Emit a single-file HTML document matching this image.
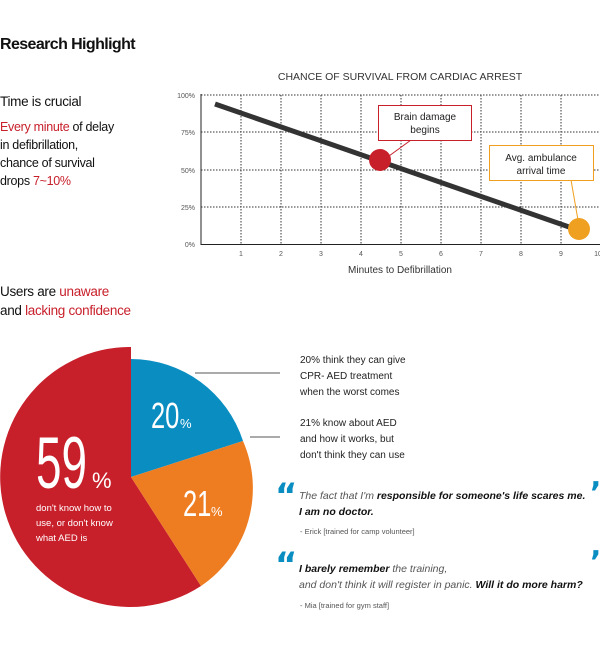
<!DOCTYPE html>
<html><head><meta charset="utf-8"><style>
body{margin:0;width:600px;height:649px;background:#fff;font-family:"Liberation Sans",sans-serif;position:relative;overflow:hidden}
.a{position:absolute;white-space:nowrap}
</style></head><body>
<div class="a" style="left:0;top:36px;font-size:16px;font-weight:bold;color:#111;letter-spacing:-0.6px">Research Highlight</div>
<div class="a" style="left:0;top:94px;font-size:13.5px;color:#111;letter-spacing:-0.3px">Time is crucial</div>
<div class="a" style="left:0;top:118px;font-size:12.5px;line-height:18px;color:#111;letter-spacing:-0.3px">
<span style="color:#c8202b">Every minute</span> of delay<br>in defibrillation,<br>chance of survival<br>drops <span style="color:#c8202b">7~10%</span></div>
<div class="a" style="left:0;top:282px;font-size:13.5px;line-height:19px;color:#111;letter-spacing:-0.3px">Users are <span style="color:#c8202b">unaware</span><br>and <span style="color:#c8202b">lacking confidence</span></div>

<svg class="a" style="left:0;top:0" width="600" height="649">
<text x="400" y="80" text-anchor="middle" font-size="10.5" fill="#333">CHANCE OF SURVIVAL FROM CARDIAC ARREST</text>
<g stroke="#333" stroke-width="1" stroke-dasharray="1.5,1.5">
<line x1="201" y1="95" x2="600" y2="95"/><line x1="201" y1="132" x2="600" y2="132"/><line x1="201" y1="170" x2="600" y2="170"/><line x1="201" y1="207" x2="600" y2="207"/>
<line x1="241" y1="95" x2="241" y2="244"/><line x1="281" y1="95" x2="281" y2="244"/><line x1="321" y1="95" x2="321" y2="244"/><line x1="361" y1="95" x2="361" y2="244"/><line x1="401" y1="95" x2="401" y2="244"/><line x1="441" y1="95" x2="441" y2="244"/><line x1="481" y1="95" x2="481" y2="244"/><line x1="521" y1="95" x2="521" y2="244"/><line x1="561" y1="95" x2="561" y2="244"/>
</g>
<line x1="201" y1="94" x2="201" y2="245" stroke="#222"/><line x1="201" y1="244.5" x2="600" y2="244.5" stroke="#222"/>
<g font-size="7" fill="#555" text-anchor="end"><text x="195" y="98">100%</text><text x="195" y="135">75%</text><text x="195" y="173">50%</text><text x="195" y="210">25%</text><text x="195" y="247">0%</text></g>
<g font-size="7" fill="#555" text-anchor="middle"><text x="241" y="256">1</text><text x="281" y="256">2</text><text x="321" y="256">3</text><text x="361" y="256">4</text><text x="401" y="256">5</text><text x="441" y="256">6</text><text x="481" y="256">7</text><text x="521" y="256">8</text><text x="561" y="256">9</text><text x="598" y="256">10</text></g>
<text x="400" y="273" text-anchor="middle" font-size="10" fill="#333">Minutes to Defibrillation</text>
<line x1="215" y1="104" x2="572" y2="228" stroke="#333" stroke-width="5"/>
<line x1="389" y1="156" x2="411" y2="140" stroke="#c8202b"/>
<circle cx="380" cy="160" r="11" fill="#c8202b"/>
<rect x="378.5" y="105.5" width="93" height="35" fill="#fff" stroke="#c8202b"/>
<text x="425" y="120" text-anchor="middle" font-size="10" fill="#222">Brain damage</text><text x="425" y="133" text-anchor="middle" font-size="10" fill="#222">begins</text>
<line x1="571" y1="180" x2="578" y2="220" stroke="#f0a020"/>
<circle cx="579" cy="229" r="11" fill="#f0a020"/>
<rect x="489.5" y="145.5" width="104" height="35" fill="#fff" stroke="#f0a020"/>
<text x="541" y="161" text-anchor="middle" font-size="10" fill="#222">Avg. ambulance</text><text x="541" y="174" text-anchor="middle" font-size="10" fill="#222">arrival time</text>

<path d="M131,477 L131,347 A130,130 0 1 0 201,586 Z" fill="#c8202b"/>
<path d="M131,477 L131,359 A118,118 0 0 1 243,441 Z" fill="#0a8ec2"/>
<path d="M131,477 L243,441 A118,118 0 0 1 201,586 Z" fill="#ee7d22"/>
<line x1="195" y1="373" x2="280" y2="373" stroke="#555"/><line x1="250" y1="437" x2="280" y2="437" stroke="#555"/>
<text transform="translate(36,488) scale(0.85,1.35)" font-size="54" fill="#fff">59</text><text x="92" y="488" font-size="22" fill="#fff">%</text>
<text x="36" y="511" font-size="9.5" fill="#fff">don't know how to</text><text x="36" y="526" font-size="9.5" fill="#fff">use, or don't know</text><text x="36" y="541" font-size="9.5" fill="#fff">what AED is</text>
<text transform="translate(151,428) scale(0.85,1.2)" font-size="30" fill="#fff">20</text><text x="180" y="428" font-size="13" fill="#fff">%</text>
<text transform="translate(183,516) scale(0.85,1.2)" font-size="30" fill="#fff">21</text><text x="211" y="516" font-size="13" fill="#fff">%</text>
</svg>
<div class="a" style="left:300px;top:353px;font-size:10px;line-height:16px;color:#222">20% think they can give<br>CPR- AED treatment<br>when the worst comes</div>
<div class="a" style="left:300px;top:416px;font-size:10px;line-height:16px;color:#222">21% know about AED<br>and how it works, but<br>don't think they can use</div>
<div class="a" style="left:275px;top:476px;font-size:34px;font-weight:bold;color:#0a8ec2;font-family:'DejaVu Sans',sans-serif">“</div>
<div class="a" style="left:590px;top:476px;font-size:30px;font-weight:bold;color:#0a8ec2;font-family:'DejaVu Sans',sans-serif">’</div>
<div class="a" style="left:299px;top:488px;font-size:10.5px;line-height:16px;font-style:italic;color:#555">The fact that I'm <b style="color:#111">responsible for someone's life scares me.</b><br><b style="color:#111">I am no doctor.</b></div>
<div class="a" style="left:300px;top:527px;font-size:7.5px;color:#555">- Erick [trained for camp volunteer]</div>
<div class="a" style="left:275px;top:545px;font-size:34px;font-weight:bold;color:#0a8ec2;font-family:'DejaVu Sans',sans-serif">“</div>
<div class="a" style="left:590px;top:545px;font-size:30px;font-weight:bold;color:#0a8ec2;font-family:'DejaVu Sans',sans-serif">’</div>
<div class="a" style="left:299px;top:561px;font-size:10.5px;line-height:16px;font-style:italic;color:#555"><b style="color:#111">I barely remember</b> the training,<br>and don't think it will register in panic. <b style="color:#111">Will it do more harm?</b></div>
<div class="a" style="left:300px;top:601px;font-size:7.5px;color:#555">- Mia [trained for gym staff]</div>
</body></html>
